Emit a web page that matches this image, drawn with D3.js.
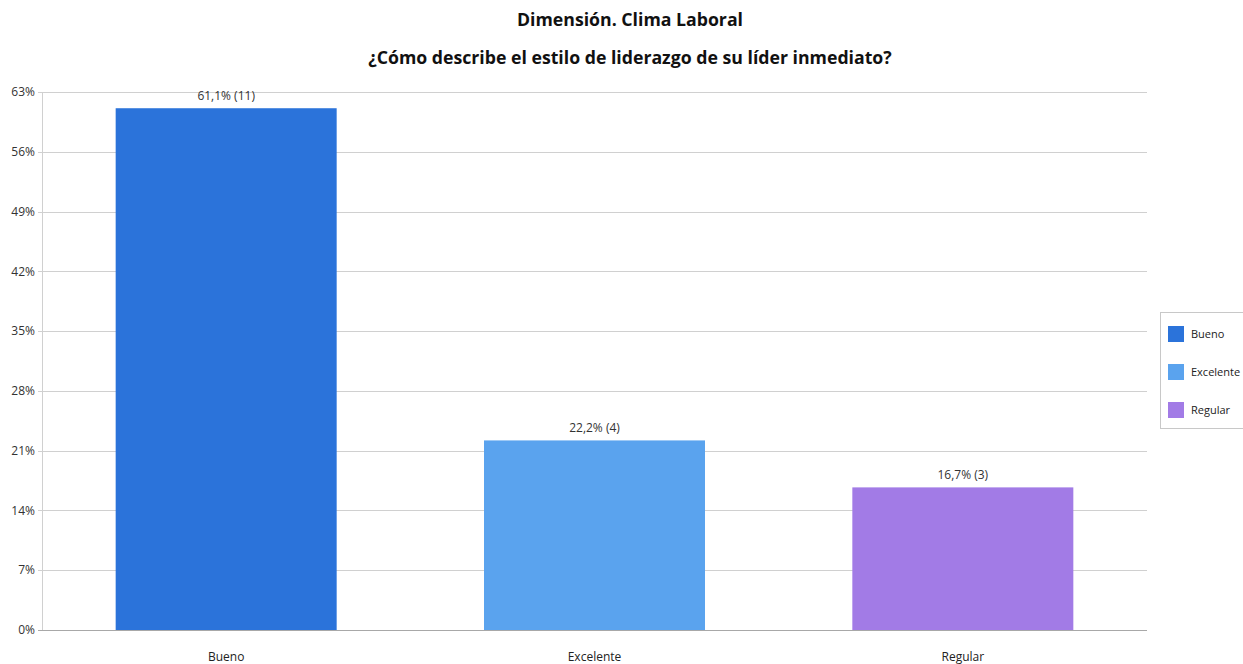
<!DOCTYPE html>
<html>
<head>
<meta charset="utf-8">
<script src="https://cdn.jsdelivr.net/npm/d3@7"></script>
<style>
  body { margin: 0; background: #fff; }
  svg { display: block; font-family: "Open Sans", "Noto Sans", sans-serif; }
</style>
</head>
<body>
<svg id="chart" width="1243" height="664"></svg>
<script>
// Survey results: leadership style of the immediate supervisor
const categories = ["Bueno", "Excelente", "Regular"];
const percents = [61.1, 22.2, 16.7];
const counts = [11, 4, 3];
const colors = ["#2b73da", "#5aa3ee", "#a27be6"];
const yTicks = [0, 7, 14, 21, 28, 35, 42, 49, 56, 63];
const titleLines = ["Dimensión. Clima Laboral", "¿Cómo describe el estilo de liderazgo de su líder inmediato?"];

const svg = d3.select("#chart");
const margin = { left: 42, right: 96, top: 92, bottom: 34 };
const W = 1243, H = 664;

const x = d3.scaleBand()
  .domain(categories)
  .range([margin.left, W - margin.right])
  .paddingInner(0.4)
  .paddingOuter(0.2);

const y = d3.scaleLinear()
  .domain([0, 63])
  .range([H - margin.bottom, margin.top]);

// Title
svg.append("g").selectAll("text")
  .data(titleLines)
  .join("text")
  .attr("x", 630)
  .attr("y", (d, i) => 26 + i * 38)
  .attr("text-anchor", "middle")
  .attr("font-weight", "bold")
  .attr("font-size", 17.7)
  .attr("fill", "#111")
  .text(d => d);

// Horizontal grid lines
svg.append("g").selectAll("line")
  .data(yTicks)
  .join("line")
  .attr("x1", margin.left - 4)
  .attr("x2", W - margin.right)
  .attr("y1", d => Math.round(y(d)) + 0.5)
  .attr("y2", d => Math.round(y(d)) + 0.5)
  .attr("stroke", d => d === 0 ? "#a8a8a8" : "#d0d0d0")
  .attr("stroke-width", 1);

// Y axis line
svg.append("line")
  .attr("x1", margin.left + 0.5).attr("x2", margin.left + 0.5)
  .attr("y1", y(63)).attr("y2", y(0))
  .attr("stroke", "#d0d0d0");

// Y tick labels
svg.append("g").selectAll("text")
  .data(yTicks)
  .join("text")
  .attr("x", margin.left - 7)
  .attr("y", d => y(d))
  .attr("dy", "0.35em")
  .attr("text-anchor", "end")
  .attr("font-size", 12)
  .attr("fill", "#333")
  .text(d => d + "%");

// Bars
svg.append("g").selectAll("rect")
  .data(categories)
  .join("rect")
  .attr("x", d => x(d))
  .attr("width", x.bandwidth())
  .attr("y", (d, i) => y(percents[i]))
  .attr("height", (d, i) => y(0) - y(percents[i]))
  .attr("fill", (d, i) => colors[i]);

// Value labels
svg.append("g").selectAll("text")
  .data(categories)
  .join("text")
  .attr("x", d => x(d) + x.bandwidth() / 2)
  .attr("y", (d, i) => y(percents[i]) - 8)
  .attr("text-anchor", "middle")
  .attr("font-size", 12)
  .attr("fill", "#333")
  .text((d, i) => percents[i].toFixed(1).replace(".", ",") + "% (" + counts[i] + ")");

// Category labels
svg.append("g").selectAll("text")
  .data(categories)
  .join("text")
  .attr("x", d => x(d) + x.bandwidth() / 2)
  .attr("y", H - 3)
  .attr("text-anchor", "middle")
  .attr("font-size", 12)
  .attr("fill", "#222")
  .text(d => d);

// Legend
const legend = svg.append("g").attr("transform", "translate(1160,312)");
legend.append("rect")
  .attr("x", 0.5).attr("y", 0.5)
  .attr("width", 90).attr("height", 116)
  .attr("fill", "#fff")
  .attr("stroke", "#c8c8c8");
const items = legend.selectAll("g.item")
  .data(categories)
  .join("g")
  .attr("class", "item")
  .attr("transform", (d, i) => `translate(8,${14 + i * 38})`);
items.append("rect")
  .attr("width", 16).attr("height", 16)
  .attr("fill", (d, i) => colors[i]);
items.append("text")
  .attr("x", 23).attr("y", 8)
  .attr("dy", "0.35em")
  .attr("font-size", 11)
  .attr("fill", "#222")
  .text(d => d);
</script>
</body>
</html>
